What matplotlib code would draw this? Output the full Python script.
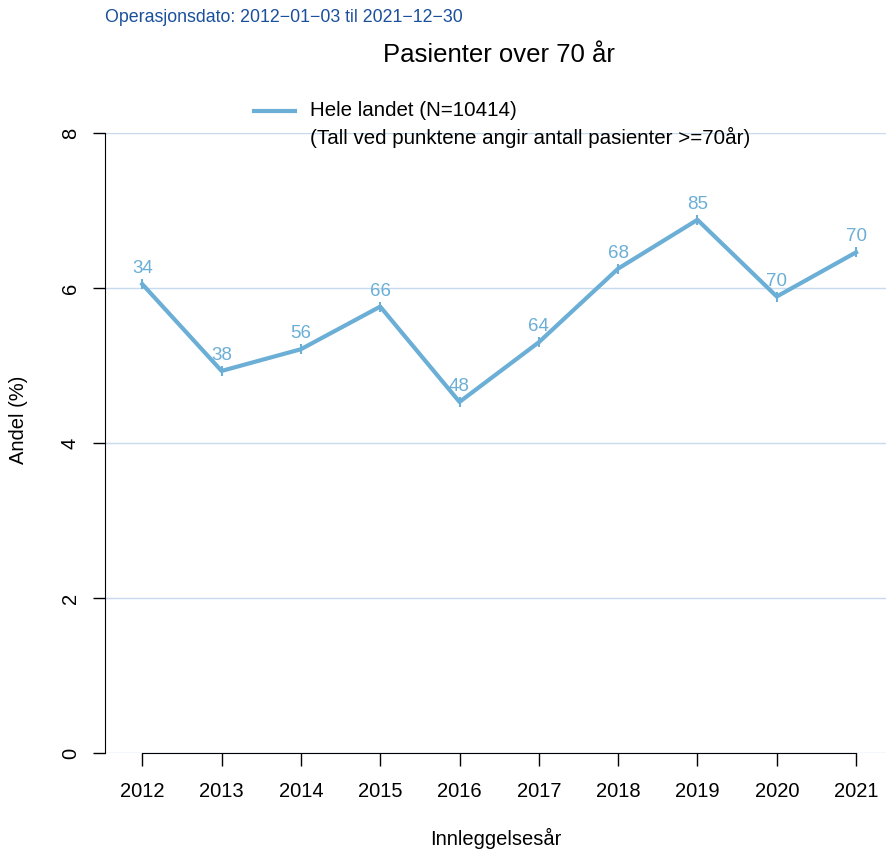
import matplotlib.pyplot as plt
from matplotlib.lines import Line2D

plt.rcParams['font.family'] = ['Liberation Sans', 'DejaVu Sans']

years = [2012, 2013, 2014, 2015, 2016, 2017, 2018, 2019, 2020, 2021]
andel = [6.05, 4.93, 5.21, 5.76, 4.53, 5.30, 6.25, 6.88, 5.89, 6.46]
antall = [34, 38, 56, 66, 48, 64, 68, 85, 70, 70]

line_col = '#6baed6'
grid_col = '#c6dbef'
W, H = 887, 850

fig = plt.figure(figsize=(8.87, 8.5), dpi=100)
ax = fig.add_axes([105 / W, 1 - 753 / H, 1 - 105 / W, (753 - 133) / H])

ax.set_xlim(2011.53, 2021.39)
ax.set_ylim(0, 8)

for yv in [0, 2, 4, 6, 8]:
    ax.axhline(yv, color=grid_col, lw=1, zorder=0)

ax.plot(years, andel, color=line_col, lw=3, marker='|', ms=7, mew=1.5, zorder=3)

for x_i, y_i, n in zip(years, andel, antall):
    ax.annotate(str(n), (x_i, y_i), xytext=(0, 5), textcoords='offset points',
                ha='center', va='bottom', color=line_col, fontsize=13.5)

for s in ['top', 'right']:
    ax.spines[s].set_visible(False)
ax.spines['left'].set_bounds(0, 8)
ax.spines['bottom'].set_bounds(2012, 2021)

ax.set_xticks(years)
ax.set_xticklabels([str(y) for y in years])
ax.set_yticks([0, 2, 4, 6, 8])
ax.set_yticklabels(['0', '2', '4', '6', '8'], rotation=90, va='center')
ax.tick_params(axis='both', length=9, width=1, labelsize=14.5, direction='out')
ax.tick_params(axis='x', pad=12)
ax.tick_params(axis='y', pad=9)

fig.text(496 / W, 1 - 838 / H, 'Innleggelsesår', ha='center', va='center', fontsize=14.5)
fig.text(19 / W, 1 - 420 / H, 'Andel (%)', ha='center', va='center', rotation=90, fontsize=14.5)

fig.text(499 / W, 1 - 55 / H, 'Pasienter over 70 år', ha='center', va='center', fontsize=18.5)
fig.text(105 / W, 1 - 18 / H, 'Operasjonsdato: 2012\u221201\u221203 til 2021\u221212\u221230',
         ha='left', va='center', fontsize=12.8, color='#1a4f9c')

# legend drawn by hand, R style
fig.add_artist(Line2D([254 / W, 295 / W], [1 - 111 / H, 1 - 111 / H], color=line_col, lw=3,
                      transform=fig.transFigure))
fig.text(310 / W, 1 - 111 / H, 'Hele landet (N=10414)', ha='left', va='center', fontsize=14.8)
fig.text(310 / W, 1 - 137 / H, '(Tall ved punktene angir antall pasienter >=70år)',
         ha='left', va='center', fontsize=14.8)

fig.savefig('out.png', dpi=100)
